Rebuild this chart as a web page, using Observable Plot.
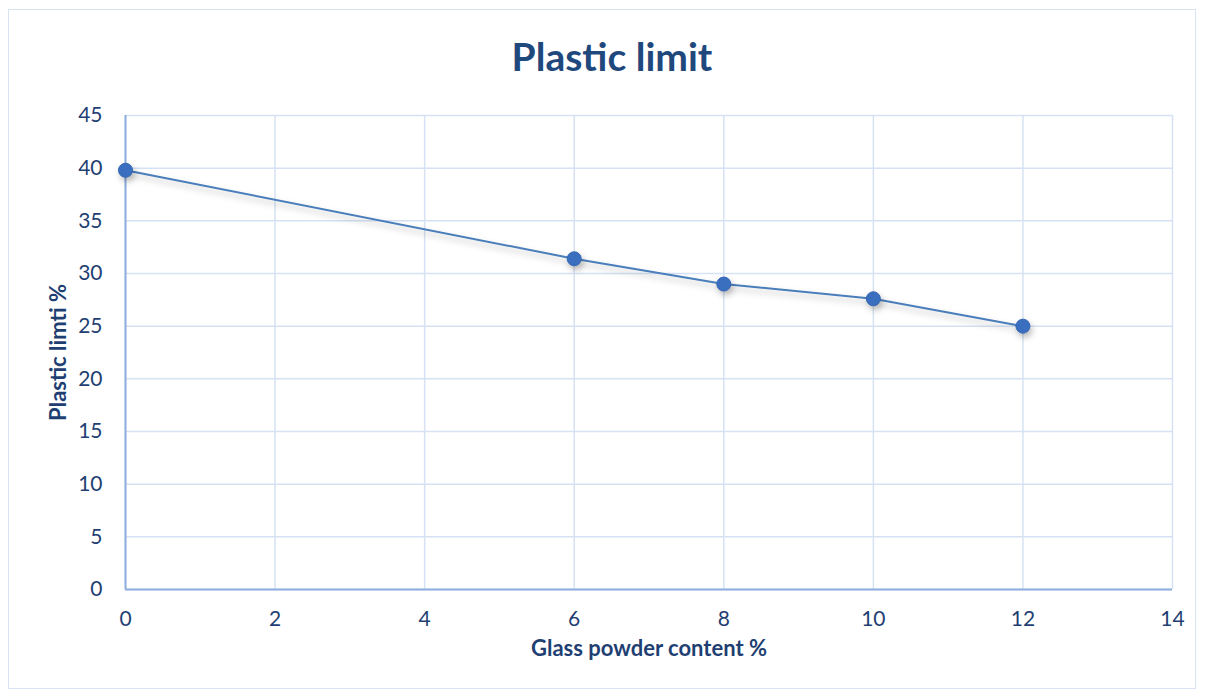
<!DOCTYPE html>
<html>
<head>
<meta charset="utf-8">
<script src="https://cdn.jsdelivr.net/npm/d3@7"></script>
<script src="https://cdn.jsdelivr.net/npm/@observablehq/plot@0.6"></script>
<style>
  html, body { margin: 0; padding: 0; background: #fff; }
  #page { position: relative; width: 1208px; height: 694px; overflow: hidden; font-family: Lato, "Open Sans", sans-serif; }
  #frame { position: absolute; left: 8px; top: 9px; width: 1188px; height: 680px; border: 1.5px solid #d9e3f1; box-sizing: border-box; pointer-events: none; }
  #title { position: absolute; left: 16px; top: 0; width: 1192px; height: 90px; text-align: center; font-weight: bold; font-size: 39px; color: #1f497d; line-height: 112px; }
  #chart { position: absolute; left: 0; top: 90px; }
</style>
</head>
<body>
<div id="page">
  <div id="title">Plastic limit</div>
  <div id="chart"></div>
  <div id="frame"></div>
</div>
<script>
const glassContent = [0, 6, 8, 10, 12];
const plasticLimit = [39.8, 31.4, 29.0, 27.6, 25.0];
const xTicks = [0, 2, 4, 6, 8, 10, 12, 14];
const yTicks = [0, 5, 10, 15, 20, 25, 30, 35, 40, 45];
const xLabel = "Glass powder content %";
const yLabel = "Plastic limti %";

const data = glassContent.map((x, i) => ({x, y: plasticLimit[i]}));

const textColor = "#1f3f73";
const gridColor = "#d6e2f3";
const axisColor = "#8eaedb";

const W = 1208, H = 604;
const mL = 125, mR = 36, mT = 25, mB = 105;

const plot = Plot.plot({
  width: W,
  height: H,
  marginLeft: mL,
  marginRight: mR,
  marginTop: mT,
  marginBottom: mB,
  style: { fontFamily: 'Lato, "Open Sans", sans-serif', fontSize: "21px", color: textColor, background: "transparent", overflow: "visible" },
  x: { domain: [0, 14], ticks: xTicks },
  y: { domain: [0, 45], ticks: yTicks },
  marks: [
    Plot.gridX(xTicks, { stroke: gridColor, strokeOpacity: 1, strokeWidth: 1.5 }),
    Plot.gridY(yTicks, { stroke: gridColor, strokeOpacity: 1, strokeWidth: 1.5 }),
    Plot.ruleY([0], { stroke: axisColor, strokeWidth: 2 }),
    Plot.ruleX([0], { stroke: axisColor, strokeWidth: 2 }),
    Plot.axisX(xTicks, { tickSize: 0, tickPadding: 22, fontSize: 21, fill: textColor, label: null }),
    Plot.axisY(yTicks, { tickSize: 0, tickPadding: 23, fontSize: 21, fill: textColor, label: null }),
    Plot.text([xLabel], { frameAnchor: "bottom", dy: 66, fontWeight: "bold", fontSize: 22, fill: textColor }),
    Plot.text([yLabel], { frameAnchor: "left", textAnchor: "middle", dx: -67, rotate: -90, fontWeight: "bold", fontSize: 22, fill: textColor }),
    Plot.line(data, { x: "x", y: "y", stroke: "#4a7ebb", strokeWidth: 2, className: "shadowed" }),
    Plot.dot(data, { x: "x", y: "y", r: 7, fill: "#3a6fc0", stroke: "#3466b3", strokeWidth: 1, className: "shadowed" })
  ]
});

d3.select(plot).selectAll("g.shadowed").style("filter", "drop-shadow(2px 4px 3px rgba(0,0,0,0.25))");
document.getElementById("chart").appendChild(plot);
</script>
</body>
</html>
